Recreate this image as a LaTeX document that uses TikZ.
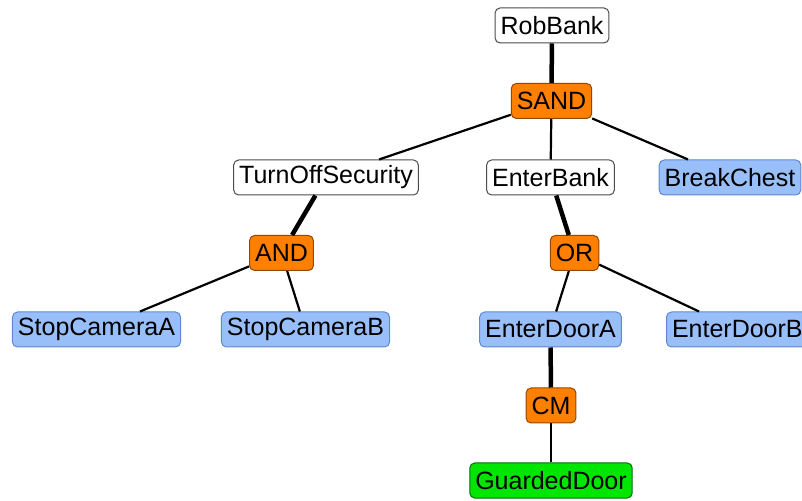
\documentclass[tikz,border=0pt]{standalone}
\usepackage{fontspec}
\setmainfont{Liberation Sans}
\begin{document}
\begin{tikzpicture}[x=1pt,y=1pt,
  box/.style={draw, rounded corners=5pt, line width=1pt, minimum height=35pt,
    inner xsep=5.5pt, inner ysep=0pt, font=\fontsize{25}{29}\selectfont},
  plain/.style={box, fill=white, draw=black!70},
  gate/.style={box, fill={rgb,255:red,255;green,128;blue,0}, draw={rgb,255:red,150;green,70;blue,0}},
  leaf/.style={box, fill={rgb,255:red,153;green,191;blue,250}, draw={rgb,255:red,95;green,135;blue,210}},
  goal/.style={box, fill={rgb,255:red,0;green,230;blue,0}, draw={rgb,255:red,0;green,110;blue,0}},
  thin/.style={line width=2.2pt},
  thick/.style={line width=4.5pt}]
\clip (0,0) rectangle (802,500);

% nodes of the attack tree
\node[plain] (robbank) at (552,474.5) {RobBank};
\node[gate] (sand) at (551.5,399) {SAND};
\node[plain] (turnoff) at (326,322.5) {TurnOffSecurity};
\node[plain] (enterbank) at (550.5,322.5) {EnterBank};
\node[leaf] (breakchest) at (730,322.5) {BreakChest};
\node[gate] (and) at (281.5,247) {AND};
\node[gate] (or) at (574.5,247) {OR};
\node[leaf] (camA) at (96.5,170.5) {StopCameraA};
\node[leaf] (camB) at (305.5,170.5) {StopCameraB};
\node[leaf] (doorA) at (550.5,170.5) {EnterDoorA};
\node[leaf, anchor=west] (doorB) at (666,170.5) {EnterDoorB};
\node[gate] (cm) at (551,94.5) {CM};
\node[goal] (guarded) at (551,19.5) {GuardedDoor};

% connectors
\draw[thick] (robbank) -- (sand);
\draw[thin] (sand) -- (turnoff);
\draw[thin] (sand) -- (enterbank);
\draw[thin] (sand) -- (breakchest);
\draw[thick] (turnoff) -- (and);
\draw[thick] (enterbank) -- (or);
\draw[thin] (and) -- (camA);
\draw[thin] (and) -- (camB);
\draw[thin] (or) -- (doorA);
\draw[thin] (or) -- (doorB);
\draw[thick] (doorA) -- (cm);
\draw[thin] (cm) -- (guarded);
\end{tikzpicture}
\end{document}
